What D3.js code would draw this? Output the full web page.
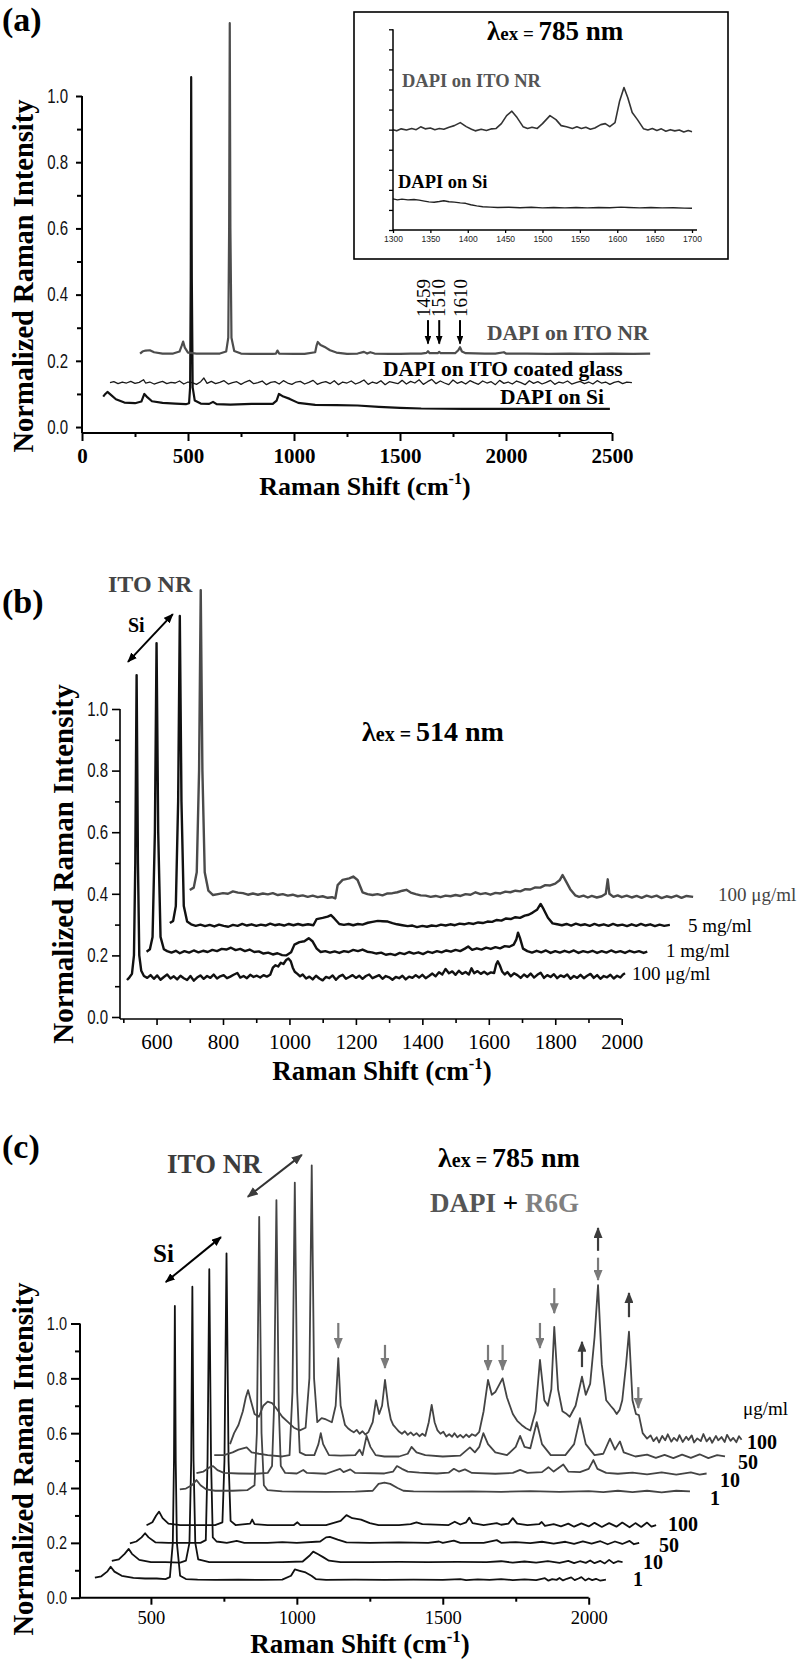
<!DOCTYPE html>
<html><head><meta charset="utf-8">
<script src="https://cdn.jsdelivr.net/npm/d3@7"></script>
<style>body{margin:0;background:#fff}svg{display:block}</style>
</head><body><script>
// ---------------- DATA ----------------
// Panel (a): [Raman shift, normalized intensity]
const aDapiSi = [[100,0.092],[110,0.1],[120,0.106],[135,0.098],[160,0.084],[200,0.074],[250,0.072],[280,0.077],[294,0.1],[305,0.092],[330,0.078],[380,0.073],[440,0.071],[490,0.069],[505,0.072],[510,0.12],[513,0.45],[515,1.057],[518,0.45],[522,0.12],[532,0.08],[560,0.071],[600,0.07],[618,0.076],[635,0.069],[700,0.068],[800,0.07],[900,0.07],[918,0.08],[929,0.1],[950,0.092],[980,0.085],[1020,0.073],[1100,0.067],[1200,0.066],[1300,0.065],[1400,0.061],[1500,0.058],[1600,0.056],[1800,0.055],[2000,0.055],[2200,0.055],[2490,0.055]];
const aDapiGlass = [[132,0.134],[150,0.137],[170,0.131],[190,0.136],[210,0.133],[230,0.138],[250,0.132],[270,0.135],[290,0.143],[300,0.133],[320,0.136],[340,0.13],[360,0.134],[380,0.138],[400,0.131],[420,0.135],[440,0.133],[460,0.139],[480,0.13],[500,0.136],[520,0.134],[540,0.129],[560,0.137],[575,0.148],[590,0.132],[610,0.138],[630,0.131],[650,0.135],[670,0.14],[690,0.13],[710,0.134],[730,0.137],[750,0.129],[770,0.136],[790,0.141],[810,0.131],[830,0.134],[850,0.139],[870,0.128],[890,0.135],[910,0.137],[930,0.13],[950,0.14],[970,0.133],[990,0.129],[1010,0.136],[1030,0.138],[1050,0.13],[1070,0.135],[1090,0.141],[1110,0.129],[1130,0.134],[1150,0.137],[1170,0.131],[1190,0.14],[1210,0.128],[1230,0.136],[1250,0.133],[1270,0.139],[1290,0.13],[1310,0.135],[1330,0.142],[1350,0.129],[1370,0.136],[1390,0.132],[1410,0.14],[1430,0.128],[1450,0.137],[1470,0.134],[1490,0.131],[1510,0.141],[1530,0.13],[1550,0.138],[1570,0.133],[1590,0.143],[1610,0.129],[1630,0.137],[1650,0.144],[1670,0.131],[1690,0.139],[1710,0.133],[1730,0.128],[1750,0.142],[1770,0.132],[1790,0.137],[1810,0.13],[1830,0.14],[1850,0.134],[1870,0.129],[1890,0.139],[1910,0.133],[1930,0.137],[1950,0.128],[1970,0.141],[1990,0.132],[2010,0.136],[2030,0.13],[2050,0.139],[2070,0.134],[2090,0.128],[2110,0.14],[2130,0.132],[2150,0.137],[2170,0.13],[2190,0.135],[2210,0.141],[2230,0.129],[2250,0.136],[2270,0.133],[2290,0.139],[2310,0.13],[2330,0.134],[2350,0.138],[2370,0.131],[2390,0.136],[2410,0.13],[2430,0.14],[2450,0.133],[2470,0.136],[2490,0.129],[2510,0.135],[2530,0.138],[2550,0.131],[2570,0.136],[2594,0.134]];
const aDapiItoNr = [[274,0.222],[285,0.228],[300,0.231],[320,0.232],[340,0.226],[380,0.222],[430,0.222],[460,0.228],[470,0.245],[477,0.258],[485,0.24],[500,0.225],[540,0.222],[600,0.222],[650,0.222],[680,0.228],[690,0.27],[694,0.6],[697,1.22],[700,0.6],[705,0.27],[718,0.23],[750,0.222],[800,0.221],[850,0.221],[900,0.221],[915,0.222],[922,0.231],[930,0.222],[1000,0.221],[1050,0.221],[1100,0.226],[1106,0.245],[1112,0.257],[1125,0.248],[1150,0.24],[1170,0.232],[1200,0.225],[1250,0.221],[1300,0.222],[1330,0.227],[1345,0.222],[1360,0.226],[1380,0.222],[1450,0.221],[1500,0.221],[1550,0.222],[1600,0.222],[1625,0.224],[1632,0.229],[1640,0.223],[1678,0.223],[1685,0.227],[1692,0.223],[1760,0.223],[1775,0.232],[1783,0.241],[1792,0.228],[1810,0.223],[1900,0.222],[1950,0.222],[1990,0.226],[2000,0.222],[2100,0.222],[2200,0.221],[2300,0.222],[2400,0.221],[2500,0.222],[2600,0.221],[2680,0.222]];
// Inset (arbitrary intensity units)
const insetItoNr = [[1300,5.0],[1305,4.94],[1311,5.04],[1318,4.98],[1325,5.06],[1331,5.0],[1337,5.14],[1343,5.04],[1350,5.08],[1356,5.0],[1362,5.06],[1368,5.02],[1375,5.12],[1382,5.2],[1390,5.35],[1398,5.15],[1405,5.02],[1410,4.94],[1418,5.02],[1425,4.96],[1432,5.04],[1438,5.06],[1445,5.3],[1452,5.7],[1459,5.92],[1466,5.6],[1474,5.15],[1480,5.06],[1486,5.12],[1493,5.06],[1500,5.3],[1510,5.7],[1518,5.5],[1525,5.2],[1532,5.14],[1540,5.06],[1546,5.14],[1552,5.06],[1558,5.12],[1564,5.02],[1570,5.08],[1578,5.25],[1584,5.3],[1590,5.15],[1597,5.35],[1603,6.4],[1609,7.1],[1614,6.6],[1620,5.85],[1627,5.5],[1635,5.05],[1641,4.98],[1647,5.06],[1653,4.96],[1659,5.04],[1665,4.92],[1671,5.0],[1677,4.94],[1683,4.98],[1689,4.88],[1695,4.96],[1700,4.9]];
const insetSi = [[1300,1.55],[1306,1.5],[1312,1.54],[1320,1.5],[1328,1.52],[1335,1.49],[1342,1.44],[1348,1.4],[1355,1.38],[1362,1.42],[1368,1.46],[1375,1.41],[1382,1.39],[1390,1.35],[1397,1.33],[1404,1.26],[1412,1.2],[1420,1.16],[1430,1.14],[1440,1.12],[1455,1.13],[1470,1.11],[1485,1.13],[1500,1.1],[1515,1.12],[1530,1.1],[1545,1.12],[1560,1.1],[1575,1.12],[1590,1.11],[1605,1.14],[1615,1.12],[1630,1.1],[1645,1.12],[1660,1.1],[1675,1.11],[1690,1.09],[1700,1.08]];
// Panel (b)
const b100a = [[511,0.12],[518,0.128],[526,0.14],[532,0.2],[536,0.5],[540,1.11],[544,0.5],[548,0.2],[554,0.15],[562,0.133],[572,0.127],[582,0.136],[592,0.124],[602,0.135],[612,0.121],[622,0.13],[632,0.138],[642,0.125],[652,0.132],[662,0.122],[672,0.134],[682,0.126],[692,0.12],[702,0.133],[712,0.118],[722,0.128],[732,0.135],[742,0.124],[752,0.133],[762,0.127],[772,0.138],[782,0.125],[792,0.132],[802,0.136],[812,0.126],[822,0.131],[832,0.137],[843,0.143],[852,0.128],[862,0.133],[872,0.126],[882,0.137],[892,0.13],[902,0.134],[912,0.128],[922,0.136],[932,0.131],[942,0.137],[950,0.16],[958,0.168],[966,0.164],[974,0.176],[982,0.172],[990,0.185],[997,0.19],[1004,0.181],[1010,0.16],[1016,0.147],[1024,0.14],[1032,0.132],[1040,0.138],[1050,0.125],[1060,0.131],[1070,0.122],[1080,0.134],[1090,0.125],[1100,0.119],[1110,0.13],[1120,0.126],[1130,0.135],[1140,0.121],[1150,0.132],[1160,0.137],[1170,0.124],[1180,0.13],[1190,0.136],[1200,0.127],[1210,0.134],[1220,0.124],[1230,0.133],[1240,0.138],[1250,0.126],[1260,0.131],[1270,0.136],[1280,0.124],[1290,0.133],[1300,0.129],[1310,0.121],[1320,0.13],[1330,0.126],[1340,0.134],[1350,0.122],[1360,0.131],[1370,0.127],[1380,0.136],[1390,0.128],[1400,0.137],[1410,0.126],[1420,0.133],[1430,0.141],[1440,0.132],[1450,0.145],[1460,0.138],[1470,0.156],[1480,0.142],[1490,0.148],[1500,0.137],[1510,0.15],[1520,0.14],[1530,0.146],[1540,0.138],[1548,0.158],[1556,0.142],[1566,0.149],[1576,0.14],[1586,0.147],[1596,0.139],[1606,0.145],[1616,0.143],[1622,0.17],[1627,0.181],[1633,0.168],[1640,0.148],[1648,0.138],[1656,0.146],[1666,0.132],[1676,0.142],[1686,0.136],[1696,0.127],[1706,0.138],[1716,0.13],[1726,0.141],[1736,0.128],[1746,0.137],[1756,0.144],[1766,0.127],[1776,0.136],[1786,0.13],[1796,0.139],[1806,0.126],[1816,0.135],[1826,0.13],[1836,0.138],[1846,0.124],[1856,0.133],[1866,0.127],[1876,0.137],[1886,0.126],[1896,0.134],[1906,0.14],[1916,0.127],[1926,0.136],[1936,0.124],[1946,0.133],[1956,0.129],[1966,0.137],[1976,0.125],[1986,0.134],[1996,0.128],[2004,0.138],[2010,0.142]];
const b1mg = [[570,0.212],[580,0.22],[588,0.26],[595,0.6],[600,1.214],[605,0.6],[612,0.26],[622,0.22],[632,0.214],[645,0.209],[658,0.215],[670,0.207],[684,0.214],[698,0.209],[712,0.216],[726,0.21],[740,0.215],[754,0.211],[768,0.218],[782,0.214],[796,0.221],[810,0.219],[824,0.225],[838,0.217],[852,0.221],[866,0.214],[880,0.219],[894,0.211],[908,0.213],[922,0.206],[936,0.209],[950,0.203],[964,0.207],[978,0.201],[990,0.2],[1005,0.21],[1015,0.235],[1030,0.243],[1045,0.246],[1058,0.256],[1070,0.245],[1082,0.222],[1094,0.211],[1108,0.214],[1122,0.209],[1136,0.213],[1150,0.208],[1164,0.214],[1178,0.211],[1192,0.218],[1206,0.214],[1220,0.219],[1234,0.212],[1248,0.21],[1262,0.206],[1276,0.209],[1290,0.202],[1304,0.205],[1318,0.201],[1332,0.208],[1346,0.204],[1360,0.211],[1374,0.206],[1388,0.21],[1402,0.204],[1416,0.212],[1430,0.208],[1444,0.214],[1458,0.21],[1472,0.216],[1486,0.212],[1500,0.218],[1514,0.214],[1528,0.222],[1538,0.229],[1550,0.218],[1564,0.223],[1578,0.219],[1592,0.225],[1606,0.221],[1620,0.227],[1634,0.223],[1648,0.23],[1662,0.228],[1675,0.235],[1683,0.252],[1688,0.274],[1694,0.256],[1703,0.222],[1716,0.214],[1730,0.209],[1744,0.215],[1758,0.21],[1772,0.216],[1786,0.208],[1800,0.214],[1814,0.209],[1828,0.215],[1842,0.21],[1856,0.216],[1870,0.208],[1884,0.214],[1898,0.21],[1912,0.215],[1926,0.208],[1940,0.214],[1954,0.209],[1968,0.216],[1982,0.21],[1996,0.214],[2010,0.208],[2024,0.215],[2038,0.21],[2052,0.214],[2066,0.208],[2077,0.212]];
const b5mg = [[640,0.305],[650,0.312],[658,0.36],[665,0.7],[670,1.302],[675,0.7],[682,0.36],[692,0.31],[704,0.301],[718,0.296],[732,0.3],[746,0.295],[760,0.299],[774,0.294],[788,0.3],[802,0.296],[816,0.293],[830,0.299],[844,0.296],[858,0.302],[872,0.297],[886,0.301],[900,0.296],[914,0.3],[928,0.297],[942,0.303],[956,0.298],[970,0.301],[984,0.297],[998,0.302],[1012,0.298],[1026,0.302],[1040,0.298],[1056,0.301],[1072,0.298],[1082,0.318],[1100,0.322],[1115,0.326],[1125,0.331],[1135,0.32],[1150,0.302],[1164,0.299],[1178,0.302],[1192,0.298],[1206,0.302],[1220,0.3],[1236,0.306],[1250,0.309],[1266,0.312],[1280,0.311],[1296,0.31],[1310,0.305],[1324,0.301],[1340,0.298],[1356,0.295],[1370,0.297],[1384,0.292],[1400,0.296],[1414,0.293],[1428,0.297],[1442,0.295],[1456,0.3],[1470,0.297],[1484,0.301],[1498,0.298],[1512,0.303],[1526,0.301],[1540,0.305],[1554,0.302],[1568,0.307],[1582,0.305],[1596,0.31],[1610,0.309],[1624,0.315],[1638,0.313],[1652,0.32],[1666,0.318],[1680,0.324],[1694,0.322],[1708,0.329],[1720,0.332],[1732,0.339],[1745,0.348],[1756,0.367],[1765,0.35],[1778,0.322],[1792,0.304],[1806,0.301],[1820,0.298],[1834,0.302],[1848,0.297],[1862,0.303],[1876,0.298],[1890,0.301],[1904,0.296],[1918,0.302],[1932,0.297],[1946,0.301],[1960,0.296],[1974,0.302],[1988,0.297],[2002,0.3],[2016,0.295],[2030,0.301],[2044,0.296],[2058,0.302],[2072,0.297],[2086,0.301],[2100,0.295],[2114,0.3],[2128,0.296],[2145,0.299]];
const b100b = [[700,0.412],[712,0.42],[721,0.47],[728,0.8],[733,1.386],[738,0.8],[745,0.47],[756,0.41],[770,0.396],[785,0.399],[800,0.402],[815,0.4],[830,0.408],[845,0.404],[860,0.402],[875,0.397],[890,0.401],[905,0.397],[920,0.401],[935,0.398],[950,0.402],[965,0.396],[980,0.399],[995,0.394],[1010,0.397],[1025,0.392],[1040,0.395],[1055,0.39],[1070,0.394],[1085,0.389],[1100,0.392],[1115,0.387],[1128,0.389],[1138,0.385],[1145,0.428],[1160,0.445],[1180,0.45],[1192,0.456],[1205,0.445],[1220,0.405],[1235,0.399],[1250,0.396],[1265,0.399],[1280,0.395],[1295,0.401],[1310,0.402],[1325,0.405],[1340,0.41],[1352,0.413],[1365,0.404],[1380,0.399],[1395,0.395],[1410,0.394],[1425,0.39],[1440,0.393],[1455,0.389],[1470,0.394],[1485,0.392],[1500,0.396],[1515,0.393],[1530,0.399],[1545,0.397],[1560,0.405],[1575,0.399],[1590,0.402],[1605,0.397],[1620,0.403],[1635,0.401],[1650,0.407],[1665,0.405],[1680,0.41],[1695,0.408],[1710,0.415],[1725,0.414],[1740,0.421],[1755,0.42],[1770,0.428],[1785,0.427],[1800,0.433],[1814,0.445],[1822,0.461],[1830,0.445],[1845,0.415],[1860,0.395],[1872,0.39],[1885,0.394],[1898,0.388],[1910,0.393],[1925,0.388],[1940,0.392],[1952,0.4],[1958,0.447],[1963,0.4],[1975,0.39],[1988,0.395],[2000,0.389],[2015,0.394],[2030,0.388],[2045,0.393],[2060,0.387],[2075,0.394],[2090,0.389],[2105,0.394],[2120,0.386],[2135,0.392],[2150,0.388],[2165,0.394],[2180,0.387],[2195,0.393],[2215,0.39]];
// Panel (c): DAPI on Si (black) and DAPI + R6G on ITO NR (gray), ug/ml
const cSi1 = [[308,0.073],[330,0.078],[350,0.095],[362,0.113],[375,0.095],[400,0.08],[440,0.072],[480,0.07],[520,0.07],[550,0.068],[565,0.075],[575,0.2],[579,0.5],[582,1.064],[585,0.5],[589,0.2],[600,0.08],[620,0.068],[660,0.066],[720,0.065],[800,0.066],[880,0.065],[950,0.066],[980,0.08],[993,0.103],[1010,0.098],[1030,0.092],[1050,0.08],[1065,0.068],[1100,0.065],[1200,0.066],[1300,0.065],[1400,0.066],[1500,0.065],[1560,0.068],[1580,0.064],[1620,0.067],[1660,0.065],[1700,0.068],[1740,0.064],[1780,0.067],[1820,0.064],[1850,0.071],[1862,0.062],[1875,0.068],[1890,0.065],[1900,0.072],[1912,0.063],[1925,0.069],[1940,0.074],[1952,0.064],[1965,0.07],[1975,0.075],[1988,0.063],[2000,0.07],[2012,0.064],[2025,0.069],[2040,0.062],[2059,0.066]];
const cSi10 = [[366,0.134],[390,0.14],[410,0.16],[424,0.178],[435,0.16],[460,0.138],[500,0.13],[550,0.13],[600,0.128],[620,0.135],[632,0.2],[638,0.5],[642,1.134],[646,0.5],[652,0.2],[662,0.14],[700,0.13],[760,0.13],[850,0.13],[950,0.13],[1020,0.132],[1045,0.155],[1056,0.168],[1070,0.16],[1090,0.148],[1110,0.135],[1150,0.13],[1250,0.13],[1350,0.131],[1450,0.13],[1550,0.131],[1650,0.13],[1700,0.133],[1740,0.128],[1780,0.132],[1820,0.128],[1860,0.133],[1900,0.127],[1930,0.134],[1950,0.126],[1970,0.133],[1990,0.127],[2005,0.136],[2020,0.126],[2040,0.134],[2055,0.125],[2070,0.138],[2085,0.126],[2100,0.133],[2116,0.13]];
const cSi50 = [[428,0.198],[450,0.205],[468,0.22],[480,0.235],[492,0.22],[515,0.202],[560,0.2],[620,0.2],[670,0.2],[688,0.21],[694,0.5],[700,1.198],[706,0.5],[712,0.22],[725,0.205],[760,0.2],[794,0.207],[820,0.2],[900,0.2],[950,0.203],[1000,0.2],[1080,0.205],[1100,0.22],[1113,0.222],[1140,0.212],[1170,0.202],[1250,0.2],[1350,0.202],[1450,0.2],[1487,0.205],[1500,0.2],[1538,0.208],[1560,0.2],[1640,0.2],[1685,0.21],[1700,0.2],[1750,0.203],[1800,0.199],[1840,0.204],[1880,0.197],[1920,0.204],[1950,0.196],[1980,0.205],[2010,0.197],[2040,0.206],[2065,0.195],[2090,0.205],[2115,0.196],[2140,0.207],[2155,0.195],[2173,0.2]];
const cSi100 = [[485,0.264],[505,0.275],[518,0.3],[528,0.314],[540,0.29],[560,0.27],[600,0.265],[660,0.265],[720,0.265],[745,0.275],[752,0.5],[759,1.256],[766,0.5],[773,0.28],[790,0.265],[840,0.27],[847,0.285],[855,0.268],[900,0.265],[990,0.265],[1002,0.275],[1012,0.265],[1100,0.265],[1150,0.28],[1170,0.301],[1190,0.29],[1220,0.285],[1250,0.272],[1280,0.265],[1350,0.265],[1390,0.268],[1410,0.275],[1430,0.268],[1520,0.265],[1541,0.277],[1560,0.267],[1580,0.275],[1591,0.292],[1602,0.272],[1640,0.265],[1685,0.272],[1700,0.266],[1725,0.27],[1740,0.29],[1755,0.27],[1790,0.265],[1830,0.268],[1839,0.276],[1850,0.262],[1880,0.268],[1905,0.26],[1930,0.27],[1950,0.259],[1975,0.271],[2000,0.26],[2020,0.273],[2045,0.258],[2070,0.272],[2095,0.259],[2115,0.274],[2140,0.257],[2160,0.272],[2180,0.258],[2200,0.274],[2215,0.259],[2231,0.265]];
const cIto1 = [[599,0.395],[620,0.398],[640,0.41],[656,0.429],[670,0.41],[690,0.395],[720,0.39],[780,0.39],[830,0.392],[855,0.41],[863,0.6],[871,1.389],[879,0.6],[887,0.41],[900,0.392],[950,0.388],[1000,0.387],[1100,0.386],[1200,0.387],[1260,0.39],[1280,0.415],[1300,0.42],[1320,0.415],[1345,0.4],[1365,0.39],[1400,0.388],[1500,0.387],[1600,0.388],[1700,0.386],[1800,0.389],[1900,0.386],[2000,0.389],[2050,0.385],[2100,0.39],[2150,0.385],[2200,0.39],[2250,0.384],[2300,0.39],[2347,0.388]];
const cIto10 = [[656,0.454],[680,0.46],[700,0.475],[713,0.48],[728,0.465],[750,0.455],[800,0.453],[860,0.452],[900,0.455],[915,0.48],[922,0.7],[930,1.45],[938,0.7],[945,0.48],[960,0.455],[1000,0.453],[1022,0.466],[1035,0.455],[1100,0.452],[1148,0.47],[1160,0.458],[1183,0.468],[1200,0.455],[1300,0.453],[1330,0.46],[1343,0.48],[1360,0.47],[1380,0.46],[1420,0.456],[1480,0.453],[1520,0.456],[1538,0.47],[1555,0.46],[1576,0.468],[1600,0.455],[1680,0.452],[1740,0.455],[1765,0.466],[1790,0.455],[1840,0.458],[1862,0.476],[1880,0.46],[1913,0.486],[1930,0.46],[1970,0.458],[2000,0.47],[2016,0.502],[2030,0.47],[2060,0.455],[2100,0.452],[2150,0.456],[2200,0.45],[2250,0.457],[2300,0.449],[2350,0.457],[2380,0.449],[2404,0.453]];
const cIto50 = [[717,0.52],[750,0.52],[780,0.53],[800,0.54],[828,0.548],[845,0.53],[870,0.525],[900,0.52],[950,0.515],[975,0.52],[985,0.75],[993,1.514],[1001,0.75],[1010,0.53],[1030,0.52],[1060,0.52],[1074,0.56],[1082,0.6],[1090,0.56],[1110,0.52],[1150,0.518],[1200,0.52],[1215,0.54],[1225,0.52],[1239,0.59],[1252,0.55],[1270,0.52],[1300,0.515],[1350,0.515],[1380,0.525],[1393,0.55],[1410,0.53],[1440,0.52],[1500,0.515],[1560,0.518],[1593,0.548],[1610,0.53],[1625,0.55],[1639,0.6],[1655,0.56],[1680,0.53],[1720,0.52],[1750,0.55],[1765,0.59],[1780,0.55],[1800,0.545],[1822,0.64],[1840,0.56],[1870,0.52],[1920,0.52],[1950,0.56],[1970,0.655],[1990,0.56],[2020,0.52],[2050,0.525],[2073,0.58],[2090,0.54],[2107,0.57],[2120,0.53],[2160,0.515],[2200,0.522],[2230,0.51],[2260,0.521],[2290,0.509],[2320,0.522],[2350,0.51],[2380,0.523],[2410,0.509],[2440,0.52],[2467,0.515]];
const cIto100 = [[771,0.56],[785,0.6],[800,0.63],[815,0.68],[825,0.73],[833,0.757],[842,0.72],[855,0.67],[870,0.66],[885,0.7],[900,0.715],[915,0.71],[930,0.69],[950,0.66],[970,0.64],[990,0.62],[1010,0.61],[1030,0.62],[1043,0.8],[1051,1.577],[1059,0.8],[1070,0.64],[1085,0.655],[1100,0.65],[1120,0.64],[1133,0.7],[1142,0.874],[1150,0.7],[1165,0.63],[1175,0.618],[1185,0.61],[1195,0.603],[1205,0.612],[1215,0.598],[1225,0.607],[1235,0.595],[1245,0.604],[1260,0.64],[1271,0.72],[1282,0.67],[1292,0.7],[1302,0.794],[1313,0.7],[1322,0.65],[1330,0.63],[1340,0.618],[1350,0.606],[1360,0.598],[1370,0.607],[1380,0.594],[1390,0.603],[1400,0.592],[1410,0.6],[1420,0.589],[1430,0.598],[1440,0.59],[1452,0.64],[1462,0.703],[1472,0.64],[1482,0.61],[1492,0.598],[1502,0.605],[1512,0.588],[1522,0.596],[1532,0.587],[1540,0.6],[1550,0.585],[1560,0.594],[1570,0.584],[1580,0.595],[1590,0.586],[1600,0.596],[1612,0.59],[1625,0.605],[1640,0.68],[1655,0.794],[1668,0.74],[1680,0.75],[1705,0.8],[1720,0.73],[1740,0.67],[1755,0.645],[1770,0.63],[1785,0.618],[1800,0.61],[1818,0.68],[1833,0.867],[1848,0.72],[1860,0.7],[1872,0.76],[1882,0.988],[1895,0.76],[1910,0.68],[1922,0.672],[1935,0.66],[1955,0.7],[1977,0.806],[1990,0.74],[2005,0.78],[2020,0.95],[2032,1.14],[2045,0.85],[2060,0.72],[2075,0.7],[2085,0.688],[2096,0.67],[2106,0.685],[2115,0.72],[2128,0.85],[2138,0.97],[2150,0.72],[2162,0.67],[2172,0.666],[2185,0.6],[2200,0.58],[2212,0.592],[2222,0.571],[2233,0.585],[2241,0.566],[2252,0.59],[2262,0.574],[2271,0.596],[2283,0.569],[2292,0.583],[2303,0.572],[2311,0.593],[2322,0.568],[2334,0.587],[2342,0.575],[2353,0.592],[2361,0.566],[2372,0.581],[2384,0.571],[2393,0.597],[2404,0.57],[2415,0.584],[2423,0.565],[2436,0.59],[2444,0.574],[2455,0.586],[2466,0.568],[2474,0.594],[2486,0.572],[2495,0.583],[2506,0.567],[2515,0.589],[2524,0.576]];
// Tick values
const aXMajor = [0,500,1000,1500,2000,2500], aXMinor = [250,750,1250,1750,2250];
const aYMajor = [0,0.2,0.4,0.6,0.8,1.0], aYMinor = [0.1,0.3,0.5,0.7,0.9];
const insetXTicks = [1300,1350,1400,1450,1500,1550,1600,1650,1700];
const insetYTicks = [0,1,2,3,4,5,6,7,8,9,10];
const bXMajor = [600,800,1000,1200,1400,1600,1800,2000], bXMinor = [500,700,900,1100,1300,1500,1700,1900];
const cXMajor = [500,1000,1500,2000], cXMinor = [750,1250,1750];
const yMinor = [0.1,0.3,0.5,0.7,0.9];
// Peak markers
const aArrowShifts = [1632,1685,1783], aArrowLabels = ["1459","1510","1610"], aArrowLabelAt = [1641,1712,1816];
const cDownArrows = [[1142,1.002,0.911],[1302,0.922,0.838],[1655,0.922,0.831],[1705,0.922,0.831],[1833,1.002,0.911],[1882,1.129,1.038],[2032,1.24,1.159],[2170,0.768,0.692]];
const cUpArrows = [[1977,0.841,0.933],[2032,1.265,1.348],[2138,1.023,1.111]];

// ---------------- DRAW ----------------
const SERIF = "'Liberation Serif','Times New Roman',serif";
const SANS = "'Liberation Sans',Arial,sans-serif";
const svg = d3.select("body").append("svg").attr("width",800).attr("height",1659);
const defs = svg.append("defs");
function mk(id,color,w,l){
  defs.append("marker").attr("id",id).attr("viewBox","0 0 10 10").attr("refX",9).attr("refY",5)
    .attr("markerUnits","userSpaceOnUse").attr("markerWidth",l).attr("markerHeight",w)
    .attr("orient","auto-start-reverse").attr("preserveAspectRatio","none")
    .append("path").attr("d","M0,0L10,5L0,10Z").attr("fill",color);
}
mk("hBlack","#000",8,10); mk("hGray","#7a7a7a",9,11); mk("hDark","#3c3c3c",9,11); mk("hSmall","#000",7,9);

function drawLine(data,x,y,color,w){
  svg.append("path").datum(data).attr("fill","none").attr("stroke",color).attr("stroke-width",w)
    .attr("stroke-linejoin","round").attr("d",d3.line().x(d=>x(d[0])).y(d=>y(d[1])));
}
function xAxis(scale,yPos,majors,minors,o){
  const gMin = svg.append("g").attr("transform",`translate(0,${yPos})`)
    .call(d3.axisBottom(scale).tickValues(minors).tickSize(o.minLen).tickFormat(""));
  const gMaj = svg.append("g").attr("transform",`translate(0,${yPos})`)
    .call(d3.axisBottom(scale).tickValues(majors).tickSize(o.majLen).tickPadding(o.pad).tickFormat(o.fmt));
  [gMin,gMaj].forEach(g=>{g.select(".domain").remove();g.selectAll("line").attr("stroke","#000").attr("stroke-width",o.sw);});
  gMaj.selectAll("text").attr("font-family",o.family).attr("font-size",o.fs).attr("font-weight",o.fw).attr("fill","#000");
  const r = scale.range();
  svg.append("line").attr("x1",r[0]).attr("x2",o.xEnd||r[1]).attr("y1",yPos).attr("y2",yPos).attr("stroke","#000").attr("stroke-width",o.sw);
}
function yAxis(scale,xPos,majors,minors,o){
  const gMin = svg.append("g").attr("transform",`translate(${xPos},0)`)
    .call(d3.axisLeft(scale).tickValues(minors).tickSize(o.minLen).tickFormat(""));
  const gMaj = svg.append("g").attr("transform",`translate(${xPos},0)`)
    .call(d3.axisLeft(scale).tickValues(majors).tickSize(o.majLen).tickPadding(o.pad).tickFormat(o.fmt));
  [gMin,gMaj].forEach(g=>{g.select(".domain").remove();g.selectAll("line").attr("stroke","#000").attr("stroke-width",o.sw);});
  gMaj.selectAll("text").attr("font-family",SANS).attr("font-size",o.fs).attr("fill","#111")
    .attr("transform",`scale(1,${o.stretch||1})`);
  svg.append("line").attr("x1",xPos).attr("x2",xPos).attr("y1",scale(o.top)).attr("y2",o.bottom).attr("stroke","#000").attr("stroke-width",o.sw);
}
function txt(x,y,s,fs,opt={}){
  return svg.append("text").attr("x",x).attr("y",y).attr("font-family",opt.family||SERIF)
    .attr("font-size",fs).attr("font-weight",opt.fw||"bold").attr("fill",opt.fill||"#000")
    .attr("text-anchor",opt.anchor||"start").text(s);
}
function xTitle(cx,base,fs){
  const t = svg.append("text").attr("x",cx).attr("y",base).attr("text-anchor","middle")
    .attr("font-family",SERIF).attr("font-weight","bold").attr("font-size",fs).attr("fill","#000");
  t.append("tspan").text("Raman Shift (cm");
  t.append("tspan").attr("font-size",fs*0.62).attr("dy",-fs*0.42).text("-1");
  t.append("tspan").attr("dy",fs*0.42).text(")");
}
function yTitle(xb,cy,fs){
  svg.append("text").attr("transform",`translate(${xb},${cy}) rotate(-90)`).attr("text-anchor","middle")
    .attr("font-family",SERIF).attr("font-weight","bold").attr("font-size",fs).attr("fill","#000")
    .text("Normalized Raman Intensity");
}
function lambda(x,y,num,big,small){
  const t = svg.append("text").attr("x",x).attr("y",y).attr("font-family",SERIF).attr("font-weight","bold").attr("fill","#000");
  t.append("tspan").attr("font-size",big).text("λ");
  t.append("tspan").attr("font-size",small).text("ex = ");
  t.append("tspan").attr("font-size",big).text(num+" nm");
}
function arrow(x1,y1,x2,y2,color,marker,w,dbl){
  const l = svg.append("line").attr("x1",x1).attr("y1",y1).attr("x2",x2).attr("y2",y2)
    .attr("stroke",color).attr("stroke-width",w).attr("marker-end",`url(#${marker})`);
  if(dbl) l.attr("marker-start",`url(#${marker})`);
}

// ===== Panel (a) =====
const xA = d3.scaleLinear().domain([0,2500]).range([82,612]);
const yA = d3.scaleLinear().domain([-0.018,1]).range([433,96]);
drawLine(aDapiGlass,xA,yA,"#1a1a1a",1.3);
drawLine(aDapiSi,xA,yA,"#111",2.2);
drawLine(aDapiItoNr,xA,yA,"#4d4d4d",2.2);
xAxis(xA,433,aXMajor,aXMinor,{minLen:4,majLen:8,pad:7,fmt:d3.format("d"),family:SERIF,fs:21,fw:"bold",sw:2});
yAxis(yA,82,aYMajor,aYMinor,{minLen:5,majLen:6,pad:8,fmt:d3.format(".1f"),fs:15,sw:2,top:1.0,bottom:433,stretch:1.3});
txt(2,31,"(a)",34);
xTitle(365,495,26);
yTitle(33,276,28.5);
txt(487,340,"DAPI on ITO NR",21.5,{fill:"#4d4d4d"});
txt(383,376,"DAPI on ITO coated glass",21.5);
txt(500,404,"DAPI on Si",21.5);
aArrowShifts.forEach((v,i)=>{
  arrow(xA(v),yA(0.323),xA(v),yA(0.252),"#000","hSmall",2,false);
  svg.append("text").attr("transform",`translate(${xA(aArrowLabelAt[i])},317) rotate(-90)`)
    .attr("font-family",SERIF).attr("font-size",19).attr("fill","#000").text(aArrowLabels[i]);
});
// Inset
svg.append("rect").attr("x",354).attr("y",12).attr("width",374).attr("height",247)
  .attr("fill","#fff").attr("stroke","#000").attr("stroke-width",1.6);
const xI = d3.scaleLinear().domain([1300,1700]).range([393,692]);
const yI = d3.scaleLinear().domain([0,10]).range([230,29.3]);
drawLine(insetItoNr,xI,yI,"#333",1.6);
drawLine(insetSi,xI,yI,"#222",1.4);
{
  const gx = svg.append("g").attr("transform","translate(0,230)")
    .call(d3.axisBottom(xI).tickValues(insetXTicks).tickSize(3).tickPadding(3).tickFormat(d3.format("d")));
  gx.select(".domain").remove();
  gx.selectAll("line").attr("stroke","#000").attr("stroke-width",1.3);
  gx.selectAll("text").attr("font-family",SANS).attr("font-size",8.5).attr("fill","#222");
  svg.append("line").attr("x1",393).attr("x2",697).attr("y1",230).attr("y2",230).attr("stroke","#000").attr("stroke-width",1.5);
  const gy = svg.append("g").attr("transform","translate(393,0)")
    .call(d3.axisLeft(yI).tickValues(insetYTicks).tickSize(4).tickFormat(""));
  gy.select(".domain").remove();
  gy.selectAll("line").attr("stroke","#000").attr("stroke-width",1.3);
  svg.append("line").attr("x1",393).attr("x2",393).attr("y1",yI(10)).attr("y2",230).attr("stroke","#000").attr("stroke-width",1.5);
}
lambda(487,40,"785",27,19);
txt(402,87,"DAPI on ITO NR",18.5,{fill:"#555"});
txt(398,188,"DAPI on Si",18.5);

// ===== Panel (b) =====
const xB = d3.scaleLinear().domain([490,2000]).range([120,621.7]);
const yB = d3.scaleLinear().domain([-0.0065,1]).range([1019,709]);
drawLine(b100a,xB,yB,"#111",2.4);
drawLine(b1mg,xB,yB,"#111",2.4);
drawLine(b5mg,xB,yB,"#111",2.4);
drawLine(b100b,xB,yB,"#4a4a4a",2.4);
xAxis(xB,1019,bXMajor,bXMinor,{minLen:4,majLen:6,pad:9,fmt:d3.format("d"),family:SERIF,fs:21,fw:"normal",sw:1.6});
yAxis(yB,120,aYMajor,yMinor,{minLen:5,majLen:8,pad:4,fmt:d3.format(".1f"),fs:15,sw:1.6,top:1.0,bottom:1019,stretch:1.3});
txt(2,613,"(b)",34);
xTitle(382,1080,27);
yTitle(73,864,29);
txt(108,592,"ITO NR",24,{fill:"#444"});
txt(128,632,"Si",20);
arrow(xB(514),yB(1.153),xB(649),yB(1.308),"#000","hBlack",2,true);
lambda(362,741,"514",28,20);
txt(632,980,"100 μg/ml",19,{fw:"normal"});
txt(666,957,"1 mg/ml",19,{fw:"normal"});
txt(688,932,"5 mg/ml",19,{fw:"normal"});
txt(718,901,"100 μg/ml",19,{fw:"normal",fill:"#444"});

// ===== Panel (c) =====
const xC = d3.scaleLinear().domain([257,2000]).range([80,588.7]);
const yC = d3.scaleLinear().domain([0,1]).range([1597.7,1323.5]);
[cSi1,cSi10,cSi50,cSi100].forEach(d=>drawLine(d,xC,yC,"#111",1.8));
[cIto1,cIto10,cIto50,cIto100].forEach(d=>drawLine(d,xC,yC,"#444",1.8));
xAxis(xC,1597.7,cXMajor,cXMinor,{minLen:4,majLen:7,pad:6,fmt:d3.format("d"),family:SERIF,fs:18.5,fw:"normal",sw:2});
yAxis(yC,80,aYMajor,yMinor,{minLen:5,majLen:9,pad:4,fmt:d3.format(".1f"),fs:14.5,sw:2,top:1.0,bottom:1597.7,stretch:1.3});
txt(2,1158,"(c)",34);
xTitle(360,1653,27);
yTitle(33,1459,28.5);
txt(167,1173,"ITO NR",27,{fill:"#3c3c3c"});
arrow(xC(832),yC(1.462),xC(1017),yC(1.615),"#333","hDark",2,true);
txt(153,1262,"Si",25);
arrow(xC(551),yC(1.151),xC(740),yC(1.315),"#000","hBlack",2,true);
lambda(438,1167,"785",28,20);
{
  const t = svg.append("text").attr("x",430).attr("y",1212).attr("font-family",SERIF).attr("font-weight","bold").attr("font-size",27);
  t.append("tspan").attr("fill","#555").text("DAPI");
  t.append("tspan").attr("fill","#000").text(" + ");
  t.append("tspan").attr("fill","#808080").text("R6G");
}
cDownArrows.forEach(a=>arrow(xC(a[0]),yC(a[1]),xC(a[0]),yC(a[2]),"#7a7a7a","hGray",2.2,false));
cUpArrows.forEach(a=>arrow(xC(a[0]),yC(a[1]),xC(a[0]),yC(a[2]),"#3c3c3c","hDark",2.2,false));
txt(743,1415,"μg/ml",19,{fw:"normal"});
txt(747,1449,"100",20);
txt(738,1469,"50",20);
txt(720,1487,"10",20);
txt(710,1505,"1",20);
txt(668,1531,"100",20);
txt(659,1552,"50",20);
txt(643,1569,"10",20);
txt(633,1586,"1",20);
</script></body></html>
